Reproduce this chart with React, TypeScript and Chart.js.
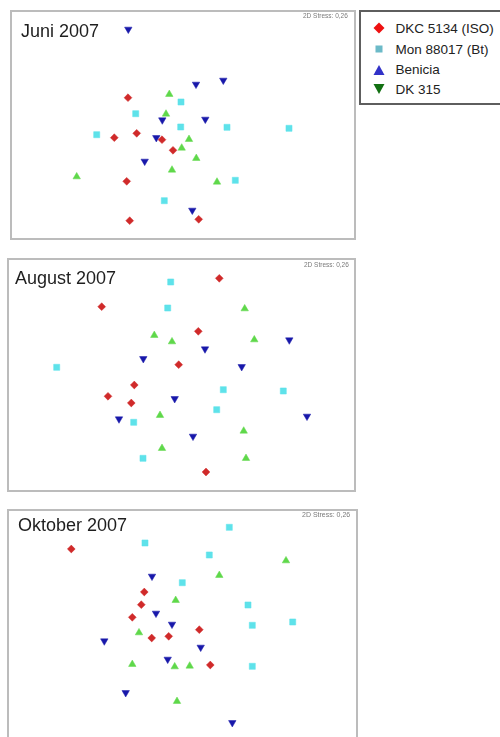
import React, { useEffect, useRef } from "react";
import { Chart, registerables } from "chart.js";

Chart.register(...registerables);

// ---- Data (NMDS ordination positions, in panel units) ----
const SERIES = ["DKC 5134 (ISO)", "Mon 88017 (Bt)", "Benicia", "DK 315"];
const PANEL_TITLES = ["Juni 2007", "August 2007", "Oktober 2007"];
const STRESS_LABEL = "2D Stress: 0,26";

// Juni 2007
const JUNI_DKC = [[128, 97.7], [114.3, 137.7], [136.7, 133.3], [162, 139.7], [173, 150.3], [126.7, 181.3], [129.7, 220.7], [198.7, 219.3]];
const JUNI_MON = [[181, 102], [135.7, 113.7], [96.7, 134.7], [180.7, 127], [227, 127.3], [289, 128.3], [235.3, 180.3], [164.3, 200.7]];
const JUNI_DK315 = [[169.3, 94.3], [166, 114], [189, 139.3], [181.7, 148], [196.3, 158.3], [172, 170], [76.7, 176.7], [217, 182]];
const JUNI_BEN = [[128.3, 29.3], [196, 84.3], [223.3, 80.3], [162.3, 120], [205.3, 119.3], [156.3, 137.7], [144.7, 161.3], [192.3, 210.3]];

// August 2007
const AUG_DKC = [[219.3, 278.3], [101.7, 306.7], [198.3, 331.3], [178.7, 364.7], [134.3, 385], [108, 396.3], [131.3, 403], [206, 472]];
const AUG_MON = [[170.7, 282], [167.7, 308], [56.7, 367.3], [223.3, 389.7], [283.3, 391], [216.7, 409.7], [133.7, 422.3], [143, 458.3]];
const AUG_DK315 = [[244.7, 308.7], [154.3, 335.3], [172, 341.7], [254.3, 339.7], [160, 415.3], [243.7, 431], [162, 448.3], [246, 458.3]];
const AUG_BEN = [[289.3, 340], [205, 349], [143.3, 358.7], [241.7, 366.7], [174.7, 398.7], [119, 419], [307, 416.3], [193, 436.3]];

// Oktober 2007
const OKT_DKC = [[71.3, 549], [144.3, 592], [141.3, 604.7], [132.3, 617.3], [151.7, 638], [168.7, 636.3], [199.3, 629.7], [210.3, 665]];
const OKT_MON = [[229.3, 527.3], [145, 543], [209.3, 555], [182.3, 582.7], [248, 605], [252.3, 625.3], [292.7, 622], [252.3, 666.3]];
const OKT_DK315 = [[286, 560.7], [219.3, 575.3], [175.7, 600.3], [139, 632.7], [132.3, 664.3], [174.7, 666.7], [189.7, 666], [177, 701.3]];
const OKT_BEN = [[152, 576.3], [156, 613.3], [172, 624.3], [104.3, 641], [200.7, 647.3], [167.7, 659.3], [125.7, 692.7], [232.3, 722.7]];

const PANEL_DATA = [
  [JUNI_DKC, JUNI_MON, JUNI_DK315, JUNI_BEN],
  [AUG_DKC, AUG_MON, AUG_DK315, AUG_BEN],
  [OKT_DKC, OKT_MON, OKT_DK315, OKT_BEN],
];

// ---- Layout / style ----
const FONT = '"Liberation Sans", Arial, Helvetica, sans-serif';
const PANELS = [
  { left: 10, top: 10, right: 356, bottom: 240, titleX: 21, titleY: 22, stressX: 303, stressY: 12.5, stressSize: 6.5 },
  { left: 7, top: 258, right: 356, bottom: 492, titleX: 15, titleY: 269, stressX: 304, stressY: 261.5, stressSize: 6.5 },
  { left: 7, top: 509, right: 358, bottom: 748, titleX: 18, titleY: 516, stressX: 302, stressY: 510.5, stressSize: 7 },
];

const PLOT_STYLES = [
  { color: "#d02a2a", pointStyle: "rectRot", radius: 3.9, rotation: 0 },
  { color: "#5ee2ea", pointStyle: "rect", radius: 4.3, rotation: 0 },
  { color: "#5fd84a", pointStyle: "triangle", radius: 4.3, rotation: 0 },
  { color: "#1818aa", pointStyle: "triangle", radius: 4.3, rotation: 180 },
];

function Panel({ idx }: { idx: number }) {
  const ref = useRef<HTMLCanvasElement | null>(null);
  const p = PANELS[idx];
  const w = p.right - p.left;
  const h = p.bottom - p.top;

  useEffect(() => {
    if (!ref.current) return;
    const datasets = PANEL_DATA[idx].map((pts, i) => ({
      label: [SERIES[0], SERIES[1], SERIES[3], SERIES[2]][i],
      data: pts.map(([x, y]) => ({ x, y })),
      pointStyle: PLOT_STYLES[i].pointStyle as any,
      pointRadius: PLOT_STYLES[i].radius,
      pointRotation: PLOT_STYLES[i].rotation,
      backgroundColor: PLOT_STYLES[i].color,
      borderColor: PLOT_STYLES[i].color,
      borderWidth: 0.5,
      showLine: false,
    }));
    const chart = new Chart(ref.current, {
      type: "scatter",
      data: { datasets },
      options: {
        animation: false,
        responsive: false,
        maintainAspectRatio: false,
        devicePixelRatio: 1,
        layout: { padding: 0, autoPadding: false },
        events: [],
        plugins: { legend: { display: false }, tooltip: { enabled: false }, title: { display: false } },
        scales: {
          x: { type: "linear", display: false, min: p.left, max: p.right },
          y: { type: "linear", display: false, min: p.top, max: p.bottom, reverse: true },
        },
      },
    });
    return () => chart.destroy();
  }, [idx]);

  return (
    <>
      <canvas
        ref={ref}
        width={w}
        height={h}
        style={{ position: "absolute", left: p.left, top: p.top, width: w, height: h, display: "block" }}
      />
      <div
        style={{
          position: "absolute",
          left: p.left,
          top: p.top,
          width: w,
          height: h,
          border: "2px solid #bcbcbc",
          boxSizing: "border-box",
          pointerEvents: "none",
        }}
      />
      <div
        style={{
          position: "absolute",
          left: p.titleX,
          top: p.titleY,
          fontFamily: FONT,
          fontSize: 18,
          lineHeight: "18px",
          color: "#1e1e1e",
          whiteSpace: "nowrap",
        }}
      >
        {PANEL_TITLES[idx]}
      </div>
      <div
        style={{
          position: "absolute",
          left: p.stressX,
          top: p.stressY,
          fontFamily: FONT,
          fontSize: p.stressSize,
          lineHeight: `${p.stressSize}px`,
          color: "#7a7a7a",
          whiteSpace: "nowrap",
        }}
      >
        {STRESS_LABEL}
      </div>
    </>
  );
}

const LEGEND_COLORS = ["#ee1111", "#6cbac8", "#3232c8", "#127012"];
const LEGEND_ROWS = [28.3, 49.3, 69.8, 89.4];

function LegendMarker({ i }: { i: number }) {
  const c = LEGEND_COLORS[i];
  let shape: React.ReactNode = null;
  if (i === 0) shape = <polygon points="6,0.5 11.5,6 6,11.5 0.5,6" fill={c} />;
  if (i === 1) shape = <rect x="2.5" y="2.5" width="7" height="7" fill={c} />;
  if (i === 2) shape = <polygon points="6,1 11.5,11 0.5,11" fill={c} />;
  if (i === 3) shape = <polygon points="0.5,1 11.5,1 6,11" fill={c} />;
  return (
    <svg
      width={12}
      height={12}
      style={{ position: "absolute", left: 373, top: LEGEND_ROWS[i] - 6 }}
    >
      {shape}
    </svg>
  );
}

function Legend() {
  return (
    <>
      <div
        style={{
          position: "absolute",
          left: 359,
          top: 10,
          width: 150,
          height: 95,
          border: "2px solid #5e5e5e",
          boxSizing: "border-box",
          background: "#fff",
        }}
      />
      {SERIES.map((s, i) => (
        <React.Fragment key={s}>
          <LegendMarker i={i} />
          <div
            style={{
              position: "absolute",
              left: 395.5,
              top: LEGEND_ROWS[i] - 6.6,
              fontFamily: FONT,
              fontSize: 13.5,
              lineHeight: "13.5px",
              color: "#222",
              whiteSpace: "nowrap",
            }}
          >
            {s}
          </div>
        </React.Fragment>
      ))}
    </>
  );
}

export default function App() {
  return (
    <div
      style={{
        position: "absolute",
        left: 0,
        top: 0,
        width: 500,
        height: 737,
        overflow: "hidden",
        background: "#fff",
      }}
    >
      <Panel idx={0} />
      <Panel idx={1} />
      <Panel idx={2} />
      <Legend />
    </div>
  );
}
